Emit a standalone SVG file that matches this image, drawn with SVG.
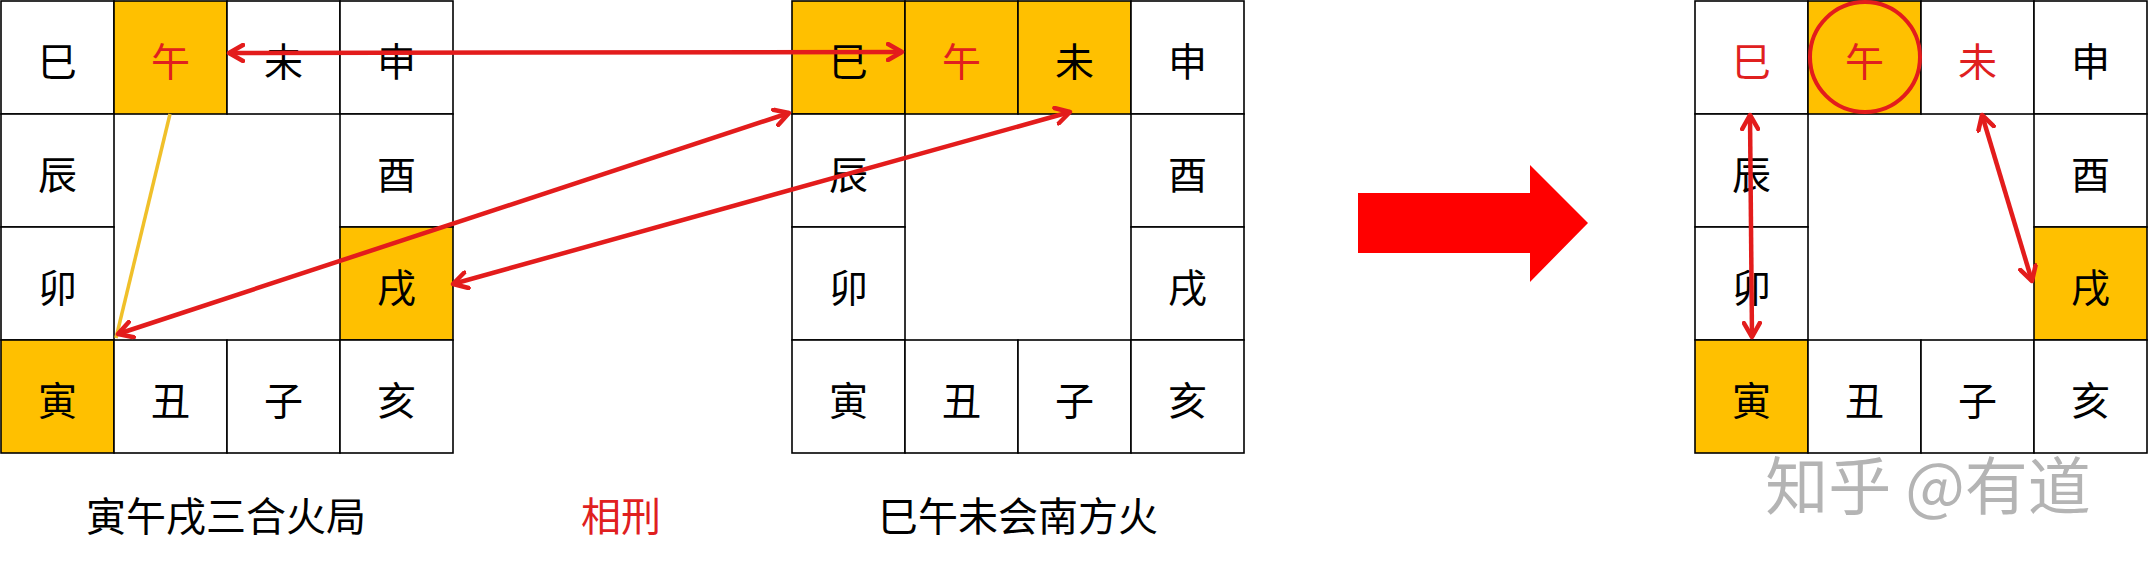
<svg xmlns="http://www.w3.org/2000/svg" width="2149" height="566" viewBox="0 0 2149 566">
<style>
.c{fill:#ffffff;stroke:#000000;stroke-width:1.6}
.o{fill:#FFC000;stroke:#000000;stroke-width:1.6}
.t{font-family:"Noto Sans CJK SC","Noto Sans CJK TC",sans-serif;font-size:39px;text-anchor:middle;dominant-baseline:central;fill:#000000}
.r{fill:#E0201F}
.lab{font-family:"Noto Sans CJK SC",sans-serif;font-size:40px;text-anchor:middle;dominant-baseline:central;fill:#000000}
.ar{stroke:#E31C1C;stroke-width:4.5;fill:none;marker-start:url(#h);marker-end:url(#h)}
</style>
<defs>
<marker id="h" markerUnits="userSpaceOnUse" viewBox="0 0 20 20" markerWidth="20" markerHeight="20" refX="16" refY="10" orient="auto-start-reverse">
<path d="M2,2 L16,10 L2,18" fill="none" stroke="#E31C1C" stroke-width="4.5" stroke-linecap="round" stroke-linejoin="round"/>
</marker>
</defs>
<rect width="2149" height="566" fill="#ffffff"/>

<!-- Grid 1 -->
<g id="grid1">
<g id="g1-si"><rect class="c" x="1" y="1" width="113" height="113"/><text class="t" x="57.5" y="59">巳</text></g>
<g id="g1-wu"><rect class="o" x="114" y="1" width="113" height="113"/><text class="t r" x="170.5" y="59">午</text></g>
<g id="g1-wei"><rect class="c" x="227" y="1" width="113" height="113"/><text class="t" x="283.5" y="59">未</text></g>
<g id="g1-shen"><rect class="c" x="340" y="1" width="113" height="113"/><text class="t" x="396.5" y="59">申</text></g>
<g id="g1-chen"><rect class="c" x="1" y="114" width="113" height="113"/><text class="t" x="57.5" y="172">辰</text></g>
<g id="g1-you"><rect class="c" x="340" y="114" width="113" height="113"/><text class="t" x="396.5" y="172">酉</text></g>
<g id="g1-mao"><rect class="c" x="1" y="227" width="113" height="113"/><text class="t" x="57.5" y="285">卯</text></g>
<g id="g1-xu"><rect class="o" x="340" y="227" width="113" height="113"/><text class="t" x="396.5" y="285">戌</text></g>
<g id="g1-yin"><rect class="o" x="1" y="340" width="113" height="113"/><text class="t" x="57.5" y="398">寅</text></g>
<g id="g1-chou"><rect class="c" x="114" y="340" width="113" height="113"/><text class="t" x="170.5" y="398">丑</text></g>
<g id="g1-zi"><rect class="c" x="227" y="340" width="113" height="113"/><text class="t" x="283.5" y="398">子</text></g>
<g id="g1-hai"><rect class="c" x="340" y="340" width="113" height="113"/><text class="t" x="396.5" y="398">亥</text></g>
</g>

<!-- Grid 2 -->
<g id="grid2">
<g id="g2-si"><rect class="o" x="792" y="1" width="113" height="113"/><text class="t" x="848.5" y="59">巳</text></g>
<g id="g2-wu"><rect class="o" x="905" y="1" width="113" height="113"/><text class="t r" x="961.5" y="59">午</text></g>
<g id="g2-wei"><rect class="o" x="1018" y="1" width="113" height="113"/><text class="t" x="1074.5" y="59">未</text></g>
<g id="g2-shen"><rect class="c" x="1131" y="1" width="113" height="113"/><text class="t" x="1187.5" y="59">申</text></g>
<g id="g2-chen"><rect class="c" x="792" y="114" width="113" height="113"/><text class="t" x="848.5" y="172">辰</text></g>
<g id="g2-you"><rect class="c" x="1131" y="114" width="113" height="113"/><text class="t" x="1187.5" y="172">酉</text></g>
<g id="g2-mao"><rect class="c" x="792" y="227" width="113" height="113"/><text class="t" x="848.5" y="285">卯</text></g>
<g id="g2-xu"><rect class="c" x="1131" y="227" width="113" height="113"/><text class="t" x="1187.5" y="285">戌</text></g>
<g id="g2-yin"><rect class="c" x="792" y="340" width="113" height="113"/><text class="t" x="848.5" y="398">寅</text></g>
<g id="g2-chou"><rect class="c" x="905" y="340" width="113" height="113"/><text class="t" x="961.5" y="398">丑</text></g>
<g id="g2-zi"><rect class="c" x="1018" y="340" width="113" height="113"/><text class="t" x="1074.5" y="398">子</text></g>
<g id="g2-hai"><rect class="c" x="1131" y="340" width="113" height="113"/><text class="t" x="1187.5" y="398">亥</text></g>
</g>

<!-- Grid 3 -->
<g id="grid3">
<g id="g3-si"><rect class="c" x="1695" y="1" width="113" height="113"/><text class="t r" x="1751.5" y="59">巳</text></g>
<g id="g3-wu"><rect class="o" x="1808" y="1" width="113" height="113"/><text class="t r" x="1864.5" y="59">午</text></g>
<g id="g3-wei"><rect class="c" x="1921" y="1" width="113" height="113"/><text class="t r" x="1977.5" y="59">未</text></g>
<g id="g3-shen"><rect class="c" x="2034" y="1" width="113" height="113"/><text class="t" x="2090.5" y="59">申</text></g>
<g id="g3-chen"><rect class="c" x="1695" y="114" width="113" height="113"/><text class="t" x="1751.5" y="172">辰</text></g>
<g id="g3-you"><rect class="c" x="2034" y="114" width="113" height="113"/><text class="t" x="2090.5" y="172">酉</text></g>
<g id="g3-mao"><rect class="c" x="1695" y="227" width="113" height="113"/><text class="t" x="1751.5" y="285">卯</text></g>
<g id="g3-xu"><rect class="o" x="2034" y="227" width="113" height="113"/><text class="t" x="2090.5" y="285">戌</text></g>
<g id="g3-yin"><rect class="o" x="1695" y="340" width="113" height="113"/><text class="t" x="1751.5" y="398">寅</text></g>
<g id="g3-chou"><rect class="c" x="1808" y="340" width="113" height="113"/><text class="t" x="1864.5" y="398">丑</text></g>
<g id="g3-zi"><rect class="c" x="1921" y="340" width="113" height="113"/><text class="t" x="1977.5" y="398">子</text></g>
<g id="g3-hai"><rect class="c" x="2034" y="340" width="113" height="113"/><text class="t" x="2090.5" y="398">亥</text></g>
<circle id="g3-circle" cx="1865" cy="57" r="55" fill="none" stroke="#E31C1C" stroke-width="4"/>
</g>

<!-- Connectors -->
<g id="connectors">
<line x1="170" y1="114" x2="116" y2="338" stroke="#F0C02A" stroke-width="3.5"/>
<line class="ar" x1="229" y1="53" x2="902" y2="52"/>
<line class="ar" x1="118" y1="334" x2="789" y2="113"/>
<line class="ar" x1="453" y1="284" x2="1070" y2="112"/>
<line class="ar" x1="1750" y1="115" x2="1752" y2="337"/>
<line class="ar" x1="1982" y1="115" x2="2032" y2="281"/>
</g>

<g id="big-arrow">
<polygon points="1358,193 1530,193 1530,165 1588,223 1530,282 1530,253 1358,253" fill="#FF0000"/>
</g>

<g id="labels">
<text class="lab" x="226" y="514">寅午戌三合火局</text>
<text class="lab" x="621" y="514" style="fill:#E0201F">相刑</text>
<text class="lab" x="1018" y="514">巳午未会南方火</text>
</g>

<g id="watermark">
<text x="1928" y="481" font-family="Noto Sans CJK SC, sans-serif" font-size="63" text-anchor="middle" dominant-baseline="central" fill="#B4B4B4" stroke="#ffffff" stroke-width="2" paint-order="stroke">知乎 @有道</text>
</g>
</svg>
